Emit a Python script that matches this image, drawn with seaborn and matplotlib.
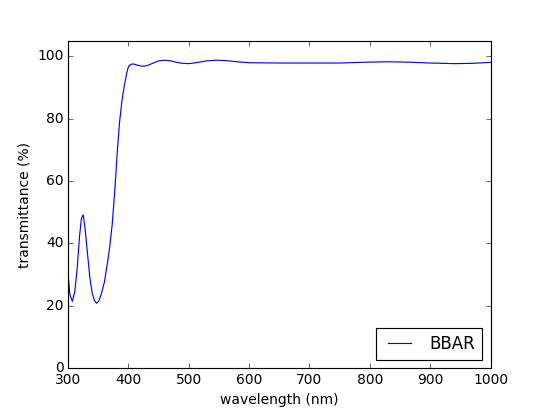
import matplotlib
matplotlib.use("Agg")
import matplotlib.pyplot as plt
import seaborn as sns
import pandas as pd

wavelength = [300, 303, 307, 311, 315, 319, 322, 325, 328, 332, 336, 340, 344, 347,
              351, 355, 360, 365, 369, 373, 377, 381, 385, 389, 393, 397, 400, 404,
              408, 415, 422, 430, 440, 450, 460, 470, 480, 490, 500, 515, 530, 545,
              560, 580, 600, 650, 700, 750, 800, 830, 860, 900, 940, 970, 1000]
transmittance = [30, 23.5, 21.4, 24.5, 32, 42.5, 48, 49.2, 45, 37, 29, 24, 21.5, 20.8,
                 21.5, 23.8, 27.5, 33.5, 39, 46, 56, 68, 78.5, 85.5, 90.5, 94.5, 96.8, 97.5,
                 97.6, 97.2, 96.9, 97.0, 97.8, 98.6, 98.8, 98.6, 98.1, 97.8, 97.7, 98.1, 98.6, 98.8,
                 98.7, 98.3, 98.0, 97.9, 97.9, 97.9, 98.2, 98.3, 98.2, 97.9, 97.7, 97.8, 98.1]
series_label = "BBAR"

plt.style.use("classic")
plt.rcParams["figure.facecolor"] = "white"
plt.rcParams["savefig.facecolor"] = "white"

df = pd.DataFrame({"wavelength": wavelength, "transmittance": transmittance})

DPI = 100 * 10 / 12
fig = plt.figure(figsize=(545 / DPI, 409 / DPI), dpi=DPI)
ax = fig.add_subplot(111)
sns.lineplot(data=df, x="wavelength", y="transmittance", color="b", lw=1,
             label=series_label, ax=ax)
ax.set_xlim(300, 1000)
ax.set_ylim(0, 105)
ax.set_xticks(range(300, 1001, 100))
ax.set_yticks(range(0, 101, 20))
ax.set_xlabel("wavelength (nm)")
ax.set_ylabel("transmittance (%)")
ax.legend(loc="lower right")
fig.savefig("out.png", dpi=DPI)
